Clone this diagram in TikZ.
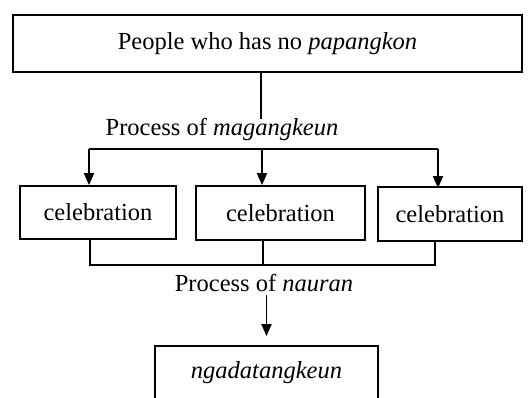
\documentclass[tikz,border=0pt]{standalone}
\usepackage{fontspec}
\setmainfont{Liberation Serif}
\usepackage{tikz}
\usetikzlibrary{arrows.meta,positioning}

\begin{document}
\begin{tikzpicture}[x=1pt, y=-1pt, >={Triangle[length=12pt,width=10pt]},
  box/.style={draw, line width=1.8pt, inner sep=0pt, align=center, font=\fontsize{24.5}{28}\selectfont},
  lbl/.style={inner sep=1pt, align=center, font=\fontsize{24.5}{28}\selectfont},
  link/.style={draw, line width=1.8pt}]
\clip (0,0) rectangle (530,397);
\node[box, minimum width=509, minimum height=57] (people) at (267.5,43.5) {People who has no \textit{papangkon}};
\node[lbl] (magang) at (222,129) {Process of \textit{magangkeun}};
\coordinate (split) at (261,119);
\coordinate (barL) at (89,149);
\coordinate (barM) at (262,149);
\coordinate (barR) at (438,149);
\node[box, minimum width=156, minimum height=53] (cel1) at (98,212.5) {celebration};
\node[box, minimum width=169, minimum height=54] (cel2) at (280.5,213) {celebration};
\node[box, minimum width=144, minimum height=54] (cel3) at (450,214) {celebration};
\coordinate (joinL) at (90,265);
\coordinate (joinM) at (263,265);
\coordinate (joinR) at (435,265);
\node[lbl] (nauran) at (264,283) {Process of \textit{nauran}};
\node[box, minimum width=223, minimum height=54] (ngada) at (266.5,373) {\textit{ngadatangkeun}};
% magangkeun
\path[link] (people.south -| split) -- (split);
\path[link] (barL) -- (barR);
\path[link, ->] (barL) -- (cel1.north -| barL);
\path[link, ->] (barM) -- (cel2.north -| barM);
\path[link, ->] (barR) -- ([yshift=-2]cel3.north -| barR);
% nauran
\path[link] (cel1.south -| joinL) -- (joinL) -- (joinR) -- (cel3.south -| joinR);
\path[link] (cel2.south -| joinM) -- (joinM);
\path[link, ->, shorten >=9pt] ([yshift=-2]nauran.south -| ngada) -- (ngada.north);
\end{tikzpicture}
\end{document}
